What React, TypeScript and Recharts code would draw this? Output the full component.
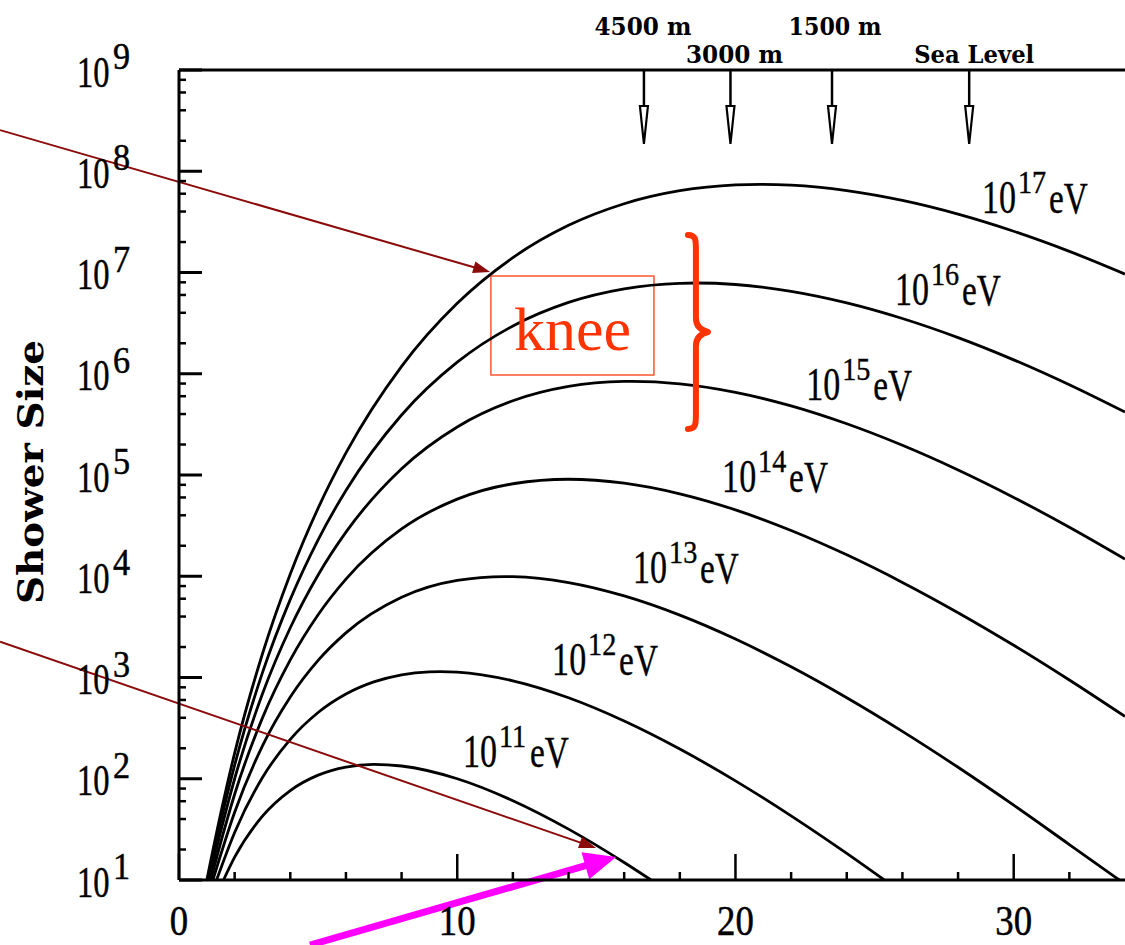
import React from 'react';
import { LineChart, Line, XAxis, YAxis, ReferenceLine, ReferenceDot, ReferenceArea, Label } from 'recharts';

// Depth (radiation lengths) and shower size for each primary energy
const t11 = [1.6, 2, 3, 4, 5, 6, 7, 8, 10, 12, 14, 16, 16.97];
const n11 = [10, 16.8, 42.7, 76.5, 108.6, 130.6, 138.6, 133.6, 100, 60.7, 31.8, 14.9, 10];

const t12 = [1.35, 2, 3, 4, 5, 6, 7, 8, 9, 9.39, 10, 12, 14, 16, 18, 20, 22, 24, 25.35];
const n12 = [10, 29.5, 102.8, 244.9, 450.8, 686.3, 904.1, 1063, 1138, 1144, 1130, 927.1, 630.7, 372.1, 196.7, 95.3, 43.0, 18.3, 10];

const t13 = [1.22, 2, 3, 4, 5, 6, 8, 10, 11.69, 12, 14, 16, 18, 20, 22, 24, 26, 28, 30, 32, 33.8];
const n13 = [10, 46.6, 211.5, 642.1, 1476, 2761, 6194, 9091, 9927, 9904, 8654, 6387, 4127, 2396, 1274, 630.6, 293.7, 129.8, 54.8, 22.4, 10];

const t14 = [1.14, 1.5, 2, 3, 4, 5, 6, 8, 10, 12, 14, 16, 18, 20, 22, 24, 26, 28, 30, 32, 34];
const n14 = [10, 23.5, 70.3, 399.1, 1492, 4168, 9367, 29300, 57780, 81950, 90800, 83030, 65180, 45240, 28320, 16270, 8696, 4368, 2080, 943.9, 411.8];

const t15 = [1.08, 1.5, 2, 3, 4, 5, 6, 8, 10, 12, 14, 16, 16.29, 18, 20, 22, 24, 26, 28, 30, 32, 34];
const n15 = [10, 30.2, 100.0, 689.9, 3099, 10300, 27260, 115200, 298000, 540700, 748900, 839900, 841600, 795400, 655500, 481300, 320400, 196400, 112100, 60090, 30490, 14770];

const t16 = [1.04, 1.5, 2, 3, 4, 5, 6, 8, 10, 12, 14, 16, 18, 18.6, 20, 22, 24, 26, 28, 30, 32, 34];
const n16 = [10, 37.5, 136.2, 1116, 5905, 22920, 70330, 391600, 1300000, 2966000, 5071000, 6906000, 7821000, 7872000, 7610000, 6520000, 5012000, 3513000, 2275000, 1372000, 778000, 418000];

const t17 = [1.0, 1.5, 2, 3, 4, 5, 6, 8, 10, 12, 14, 16, 18, 20, 20.9, 22, 24, 26, 28, 30, 32, 34];
const n17 = [10, 45.5, 179.3, 1716, 10530, 47040, 165200, 1184000, 4962000, 14020000, 29220000, 47790000, 64230000, 73310000, 74290000, 72920000, 64450000, 51510000, 37710000, 25550000, 16180000, 9642000];

// curve labels: exponent text and anchor (left/baseline) in data coordinates
const energyExp = ['11', '12', '13', '14', '15', '16', '17'];
const labelT = [10.21, 13.41, 16.32, 19.52, 22.54, 25.73, 28.86];
const labelN = [130.6, 1059, 8570, 67900, 551000, 4780000, 38700000];

// axis ticks
const xMajorTicks = [0, 10, 20, 30];
const xMinorTicks = [2, 4, 6, 8, 12, 14, 16, 18, 22, 24, 26, 28, 32];
const yDecades = [10, 100, 1e3, 1e4, 1e5, 1e6, 1e7, 1e8, 1e9];
const yExpLabels = ['1', '2', '3', '4', '5', '6', '7', '8', '9'];
const yMinorMult = [2, 4, 6, 8];

// altitude markers
const altT = [16.71, 19.82, 23.47, 28.4];
const altLabels = ['4500 m', '3000 m', '1500 m', 'Sea Level'];
const altRow = [0, 1, 0, 1];
const altTextLen = [97, 97, 93, 120];
const altDx = [-1, 4, 3, 5];

const curves = [
  { id: 'e11', t: t11, n: n11 },
  { id: 'e12', t: t12, n: n12 },
  { id: 'e13', t: t13, n: n13 },
  { id: 'e14', t: t14, n: n14 },
  { id: 'e15', t: t15, n: n15 },
  { id: 'e16', t: t16, n: n16 },
  { id: 'e17', t: t17, n: n17 },
].map((c) => ({ id: c.id, data: c.t.map((t, i) => ({ t, n: c.n[i] })) }));

const yTicks = [
  ...yDecades,
  ...yDecades.slice(0, -1).flatMap((d) => yMinorMult.map((m) => d * m)),
].sort((a, b) => a - b);
const xTicks = [...xMajorTicks, ...xMinorTicks].sort((a, b) => a - b);

const SERIF = '"Liberation Serif", "Times New Roman", serif';
const SLAB = '"DejaVu Serif", serif';
const ORANGE = '#ff3300';
const DARKRED = '#8b0a0a';
const MAGENTA = '#ff00ff';

// text squeezed horizontally by a scale transform
const Squeezed = ({ x, y, sx, sy = 1, size, children, fill = '#000', weight = 'normal', font = SERIF, sw = 0.5 }: any) => (
  <text
    transform={`translate(${x},${y}) scale(${sx},${sy})`}
    x={0}
    y={0}
    fontSize={size}
    fontFamily={font}
    fontWeight={weight}
    fill={fill}
    stroke={fill}
    strokeWidth={sw}
  >
    {children}
  </text>
);

const YTick = (props: any) => {
  const { x, y, payload } = props;
  const v = payload.value;
  const idx = yDecades.findIndex((d) => Math.abs(d - v) < d * 1e-6);
  const major = idx >= 0;
  return (
    <g>
      <line x1={x} x2={x + (major ? 23 : 7)} y1={y} y2={y} stroke="#000" strokeWidth={major ? 3 : 2.5} />
      {major && (
        <>
          <Squeezed x={x - 102} y={y + 16.5} sx={0.74} size={44}>10</Squeezed>
          <Squeezed x={x - 66} y={y - 1} sx={0.9} size={38}>{yExpLabels[idx]}</Squeezed>
        </>
      )}
    </g>
  );
};

const XTick = (props: any) => {
  const { x, y, payload } = props;
  const v = payload.value;
  const major = xMajorTicks.includes(v);
  const s = String(v);
  const w = s.length * 20 * 0.92;
  return (
    <g>
      <line x1={x} x2={x} y1={y} y2={y - (major ? 26 : 8)} stroke="#000" strokeWidth={2.5} />
      {major && <Squeezed x={x - w / 2} y={y + 55} sx={0.92} sy={1.08} size={40}>{s}</Squeezed>}
    </g>
  );
};

const makeArrow = (color: string, width: number, headLen: number, headW: number) => (p: any) => {
  const { x1, y1, x2, y2 } = p;
  const dx = x2 - x1;
  const dy = y2 - y1;
  const len = Math.sqrt(dx * dx + dy * dy);
  const ux = dx / len;
  const uy = dy / len;
  const bx = x2 - ux * headLen;
  const by = y2 - uy * headLen;
  const px = -uy * headW / 2;
  const py = ux * headW / 2;
  return (
    <g>
      <line x1={x1} y1={y1} x2={bx + ux * 2} y2={by + uy * 2} stroke={color} strokeWidth={width} />
      <polygon points={`${x2},${y2} ${bx + px},${by + py} ${bx - px},${by - py}`} fill={color} stroke="none" />
    </g>
  );
};

const EnergyLabel = (exp: string) => (p: any) => {
  const { cx, cy } = p;
  return (
    <g>
      <Squeezed x={cx} y={cy} sx={0.74} size={46} sw={0.4}>10</Squeezed>
      <Squeezed x={cx + 36} y={cy - 20} sx={0.88} size={32} sw={0.4}>{exp}</Squeezed>
      <Squeezed x={cx + 67} y={cy} sx={0.74} size={45} sw={0.4}>eV</Squeezed>
    </g>
  );
};

const AltMarker = (i: number) => (p: any) => {
  const { cx, cy } = p;
  const baseY = altRow[i] === 0 ? cy - 35 : cy - 7;
  return (
    <g>
      <line x1={cx} x2={cx} y1={cy} y2={cy + 37} stroke="#000" strokeWidth={2.5} />
      <polygon points={`${cx - 4},${cy + 36} ${cx + 4},${cy + 36} ${cx},${cy + 74}`} fill="#fff" stroke="#000" strokeWidth={2.2} />
      <text x={cx + altDx[i]} y={baseY} textAnchor="middle" fontSize={25} fontWeight="bold" fontFamily={SLAB} fill="#000" textLength={altTextLen[i]} lengthAdjust="spacingAndGlyphs">{altLabels[i]}</text>
    </g>
  );
};

const KneeText = (p: any) => (
  <text x={p.cx} y={p.cy} textAnchor="middle" fontSize={62} fontFamily={SERIF} fill={ORANGE}>knee</text>
);

const Brace = (p: any) => {
  const { cx, cy } = p;
  const d = `M ${cx - 20} ${cy - 97} C ${cx - 12} ${cy - 97}, ${cx - 12} ${cy - 92}, ${cx - 12} ${cy - 82} L ${cx - 12} ${cy - 14} C ${cx - 12} ${cy - 6}, ${cx - 8} ${cy - 2}, ${cx} ${cy} C ${cx - 8} ${cy + 2}, ${cx - 12} ${cy + 6}, ${cx - 12} ${cy + 14} L ${cx - 12} ${cy + 82} C ${cx - 12} ${cy + 92}, ${cx - 12} ${cy + 97}, ${cx - 20} ${cy + 97}`;
  return <path d={d} fill="none" stroke={ORANGE} strokeWidth={6} strokeLinecap="round" strokeLinejoin="round" />;
};

const YLabel = (p: any) => {
  const vb = p.viewBox || { x: 0, y: 70, width: 179, height: 810 };
  const x = vb.x + 43;
  const y = vb.y + vb.height / 2 - 3;
  return (
    <text x={x} y={y} transform={`rotate(-90, ${x}, ${y})`} textAnchor="middle" fontSize={36} fontWeight="bold" fontFamily={SLAB} fill="#000" textLength={264} lengthAdjust="spacingAndGlyphs">Shower Size</text>
  );
};

export default function App() {
  return (
    <div style={{ position: 'absolute', left: 0, top: 0, width: 1125, height: 945, background: '#fff', overflow: 'hidden' }}>
      <LineChart width={1125} height={945} margin={{ top: 70, right: 0, bottom: 0, left: 0 }}>
        <XAxis
          dataKey="t"
          type="number"
          domain={[0, 34]}
          allowDataOverflow
          ticks={xTicks}
          interval={0}
          tick={(p: any) => <XTick {...p} />}
          tickLine={false}
          tickSize={0}
          tickMargin={0}
          height={65}
          axisLine={{ stroke: '#000', strokeWidth: 3 }}
        />
        <YAxis
          type="number"
          scale="log"
          domain={[10, 1e9]}
          allowDataOverflow
          ticks={yTicks}
          interval={0}
          tick={(p: any) => <YTick {...p} />}
          tickLine={false}
          tickSize={0}
          tickMargin={0}
          width={179}
          axisLine={{ stroke: '#000', strokeWidth: 3 }}
        >
          <Label content={(p: any) => <YLabel {...p} />} />
        </YAxis>
        <ReferenceLine y={1e9} stroke="#000" strokeWidth={3} ifOverflow="visible" />
        {curves.map((c) => (
          <Line
            key={c.id}
            data={c.data}
            dataKey="n"
            type="monotone"
            stroke="#000"
            strokeWidth={2.8}
            dot={false}
            activeDot={false}
            isAnimationActive={false}
          />
        ))}
        {energyExp.map((e, i) => (
          <ReferenceDot key={'lab' + e} x={labelT[i]} y={labelN[i]} r={0} ifOverflow="visible" shape={EnergyLabel(e)} />
        ))}
        {altT.map((t, i) => (
          <ReferenceDot key={'alt' + i} x={t} y={1e9} r={0} ifOverflow="visible" shape={AltMarker(i)} />
        ))}
        <ReferenceArea x1={11.21} x2={17.07} y1={972000} y2={9235000} fill="none" fillOpacity={0} stroke="#ff5533" strokeWidth={1.5} ifOverflow="visible" />
        <ReferenceDot x={14.14} y={1718000} r={0} ifOverflow="visible" shape={KneeText} />
        <ReferenceDot x={19.01} y={2585000} r={0} ifOverflow="visible" shape={Brace} />
        <ReferenceLine segment={[{ x: -6.43, y: 2.55e8 }, { x: 11.18, y: 1.012e7 }]} ifOverflow="visible" shape={makeArrow(DARKRED, 2, 17, 12)} />
        <ReferenceLine segment={[{ x: -6.43, y: 2260 }, { x: 14.99, y: 20.7 }]} ifOverflow="visible" shape={makeArrow(DARKRED, 2, 17, 12)} />
        <ReferenceLine segment={[{ x: 4.71, y: 2.28 }, { x: 15.71, y: 16.9 }]} ifOverflow="visible" shape={makeArrow(MAGENTA, 7, 32, 28)} />
      </LineChart>
    </div>
  );
}
